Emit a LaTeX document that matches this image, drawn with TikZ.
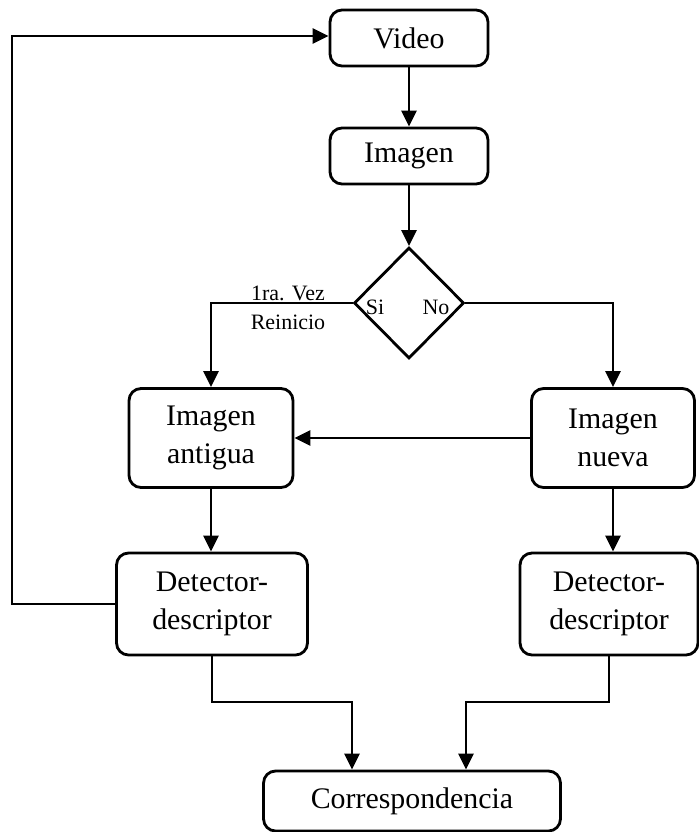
\documentclass[tikz,border=0pt]{standalone}
\usepackage{fontspec}
\setmainfont{Liberation Serif}
\usetikzlibrary{arrows.meta,shapes.geometric}

\begin{document}
\begin{tikzpicture}[
  x=0.02cm, y=-0.02cm,
  every node/.style={font=\fontsize{17}{22}\selectfont},
  box/.style={draw, line width=1.6pt, rounded corners=0.24cm, align=center, inner sep=0pt},
  check/.style={draw, line width=1.6pt, diamond, minimum width=2.2cm, minimum height=2.22cm, inner sep=0pt},
  small/.style={font=\fontsize{12.5}{14}\selectfont, inner sep=0pt},
  flow/.style={-{Triangle[length=0.32cm, width=0.3cm]}, line width=1.6pt}
]
  \useasboundingbox (0,0) rectangle (699,832);

  \node[box, minimum width=3.16cm, minimum height=1.12cm] (video) at (409,38) {Video};
  \node[box, minimum width=3.16cm, minimum height=1.12cm] (imagen) at (409,156) {Imagen};
  \node[check] (decision) at (409,303) {};
  \node[small] (si) at (375,307) {Si};
  \node[small] (no) at (436,307) {No};
  \node[small] (vez) at (288,293) {1ra. Vez};
  \node[small] (reinicio) at (288,322) {Reinicio};
  \node[box, minimum width=3.28cm, minimum height=1.98cm] (antigua) at (211,438) {Imagen\\antigua};
  \node[box, minimum width=3.26cm, minimum height=1.98cm] (nueva) at (613,438) {Imagen\\nueva};
  \node[box, minimum width=3.82cm, minimum height=2.04cm] (detL) at (212,604) {Detector-\\descriptor};
  \node[box, minimum width=3.56cm, minimum height=2.04cm] (detR) at (609,604) {Detector-\\descriptor};
  \node[box, minimum width=5.94cm, minimum height=1.2cm] (corr) at (412,801) {Correspondencia};

  \coordinate (back) at (12,36);
  \coordinate (joinL) at (352,702);
  \coordinate (joinR) at (466,702);

  \draw[flow] (video) -- (imagen);
  \draw[flow] (imagen) -- (decision);
  \draw[flow] (decision.west) -| (antigua.north);
  \draw[flow] (decision.east) -| (nueva.north);
  \draw[flow] (nueva) -- (antigua);
  \draw[flow] (antigua.south) -- (antigua.south |- detL.north);
  \draw[flow] (nueva.south) -- (nueva.south |- detR.north);
  \draw[flow] (detL.west) -| (back) -- (back -| video.west);
  \draw[flow] (detL.south) |- (joinL) -- (joinL |- corr.north);
  \draw[flow] (detR.south) |- (joinR) -- (joinR |- corr.north);
\end{tikzpicture}
\end{document}
